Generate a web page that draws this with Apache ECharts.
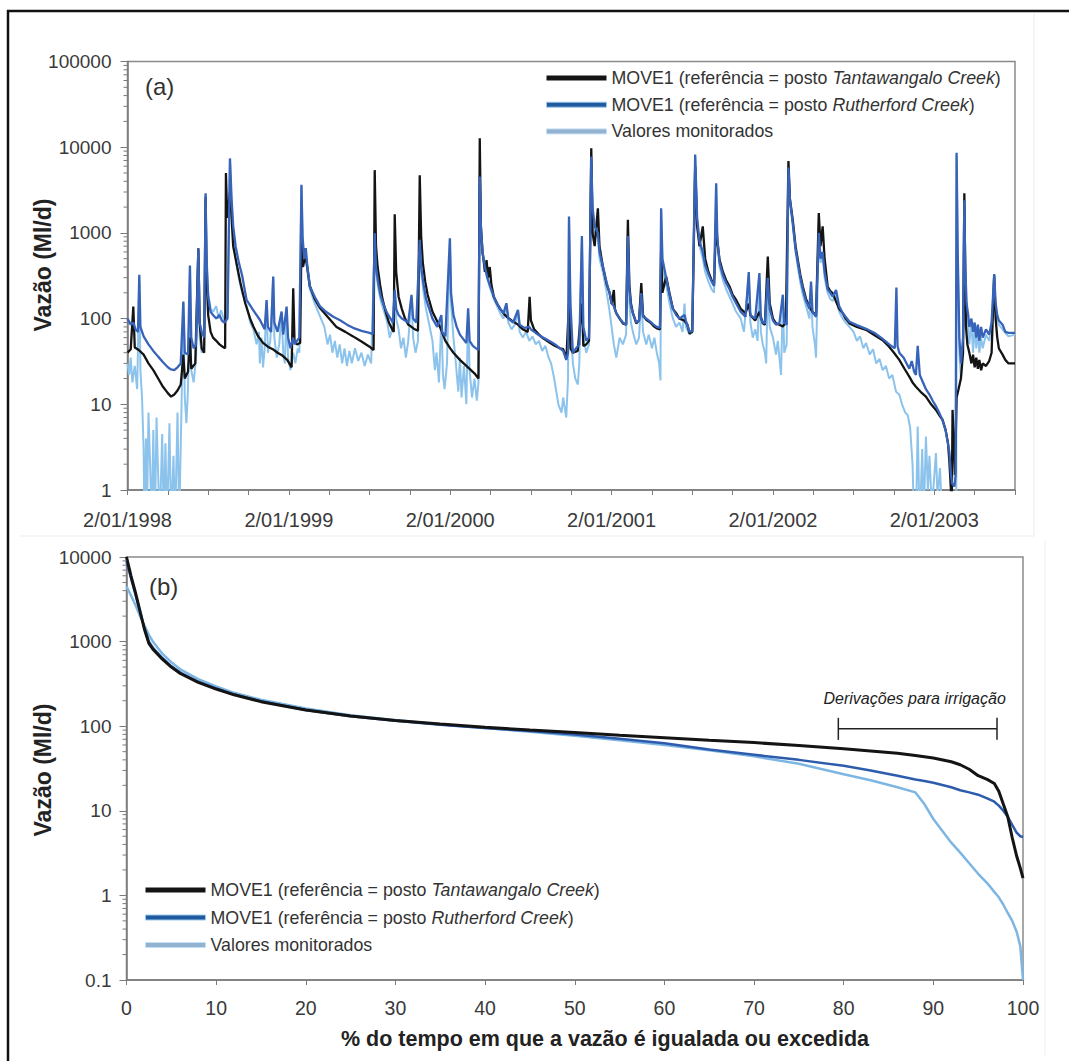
<!DOCTYPE html>
<html>
<head>
<meta charset="utf-8">
<script src="https://cdn.jsdelivr.net/npm/echarts@6/dist/echarts.min.js"></script>
<style>
  html, body { margin: 0; padding: 0; background: #fff; }
  #c { width: 1069px; height: 1061px; }
</style>
</head>
<body>
<div id="c"></div>
<script>
// ---------- series names / labels ----------
const N_TAN = 'MOVE1 (referência = posto Tantawangalo Creek)';
const N_RUT = 'MOVE1 (referência = posto Rutherford Creek)';
const N_MON = 'Valores monitorados';

const labelYears = [1998, 1999, 2000, 2001, 2002, 2003];
const yearLabels = ['2/01/1998', '2/01/1999', '2/01/2000', '2/01/2001', '2/01/2002', '2/01/2003'];

// ---------- (a) daily flow series: [decimal year, Ml/d] ----------
const tantawangaloDaily = [
  [1998.000,40],[1998.020,44],[1998.036,138],[1998.045,46],[1998.070,43],[1998.100,38],[1998.130,30],[1998.160,25],
  [1998.190,20],[1998.220,16],[1998.250,13.5],[1998.270,12.3],[1998.290,13],[1998.310,14.5],[1998.330,17],[1998.346,38],
  [1998.355,20],[1998.375,24],[1998.387,60],[1998.395,26],[1998.420,30],[1998.439,660],[1998.447,90],[1998.460,45],
  [1998.475,40],[1998.484,2600],[1998.490,300],[1998.500,110],[1998.515,70],[1998.530,60],[1998.550,55],[1998.570,50],
  [1998.590,47],[1998.605,45],[1998.610,5000],[1998.618,1500],[1998.635,3000],[1998.645,1500],[1998.655,700],[1998.680,400],
  [1998.700,260],[1998.730,150],[1998.760,100],[1998.780,81],[1998.810,62],[1998.840,52],[1998.870,47],[1998.900,44],
  [1998.930,40],[1998.960,37],[1998.990,33],[1999.017,27],[1999.027,226],[1999.035,55],[1999.050,50],[1999.070,52],
  [1999.078,800],[1999.085,400],[1999.100,500],[1999.110,450],[1999.130,240],[1999.160,170],[1999.190,135],[1999.240,105],
  [1999.295,80],[1999.350,70],[1999.398,62],[1999.450,54],[1999.500,47],[1999.525,43],[1999.532,5400],[1999.540,700],
  [1999.550,400],[1999.565,250],[1999.580,170],[1999.600,120],[1999.620,90],[1999.640,75],[1999.650,70],[1999.656,1650],
  [1999.665,350],[1999.680,180],[1999.700,130],[1999.720,100],[1999.740,85],[1999.760,80],[1999.780,75],[1999.800,72],
  [1999.811,4700],[1999.820,900],[1999.830,450],[1999.845,270],[1999.860,190],[1999.890,120],[1999.935,81],[1999.970,55],
  [2000.000,45],[2000.020,40],[2000.060,33],[2000.110,27],[2000.150,23],[2000.175,20],[2000.183,12700],[2000.190,1200],
  [2000.200,600],[2000.206,500],[2000.215,350],[2000.225,480],[2000.235,300],[2000.245,400],[2000.255,250],[2000.270,180],
  [2000.290,150],[2000.310,130],[2000.330,115],[2000.350,105],[2000.380,95],[2000.420,85],[2000.450,75],[2000.480,70],
  [2000.492,180],[2000.500,95],[2000.520,75],[2000.550,65],[2000.580,58],[2000.620,52],[2000.650,48],[2000.680,45],
  [2000.700,44],[2000.720,34],[2000.736,150],[2000.745,45],[2000.760,40],[2000.790,42],[2000.816,150],[2000.825,48],
  [2000.843,50],[2000.860,55],[2000.874,9700],[2000.882,1000],[2000.895,700],[2000.915,1940],[2000.925,700],[2000.946,405],
  [2000.970,250],[2000.988,198],[2001.000,150],[2001.014,216],[2001.020,130],[2001.029,116],[2001.050,100],[2001.070,88],
  [2001.090,85],[2001.101,1420],[2001.110,250],[2001.120,150],[2001.132,116],[2001.153,88],[2001.170,95],[2001.184,259],
  [2001.195,110],[2001.215,97],[2001.240,90],[2001.260,82],[2001.280,77],[2001.300,75],[2001.307,600],[2001.315,200],
  [2001.338,310],[2001.359,198],[2001.380,130],[2001.400,116],[2001.420,100],[2001.450,95],[2001.470,85],[2001.483,67],
  [2001.500,70],[2001.518,6000],[2001.530,1200],[2001.545,700],[2001.565,1190],[2001.580,500],[2001.600,350],[2001.620,280],
  [2001.635,250],[2001.648,1500],[2001.655,800],[2001.669,484],[2001.690,350],[2001.710,280],[2001.731,237],[2001.750,190],
  [2001.772,165],[2001.800,130],[2001.830,116],[2001.850,150],[2001.860,110],[2001.890,95],[2001.916,120],[2001.937,88],
  [2001.950,85],[2001.968,530],[2001.980,150],[2002.000,100],[2002.019,88],[2002.040,85],[2002.061,81],[2002.080,90],
  [2002.096,6900],[2002.105,2500],[2002.123,1400],[2002.140,700],[2002.154,484],[2002.170,320],[2002.185,237],[2002.205,170],
  [2002.226,138],[2002.245,120],[2002.267,110],[2002.284,1700],[2002.295,700],[2002.308,1190],[2002.320,500],[2002.339,237],
  [2002.355,210],[2002.370,198],[2002.390,160],[2002.410,130],[2002.432,116],[2002.450,100],[2002.474,88],[2002.520,80],
  [2002.577,74],[2002.630,64],[2002.680,56],[2002.720,47],[2002.750,40],[2002.783,33],[2002.815,26],[2002.845,21],
  [2002.865,18],[2002.886,16],[2002.915,14],[2002.948,12.3],[2002.980,10],[2003.010,8.6],[2003.030,7.5],[2003.051,6.6],
  [2003.070,5],[2003.085,3.5],[2003.093,2.2],[2003.103,1.0],[2003.108,0.6],[2003.113,8.6],[2003.120,4],[2003.128,1.5],
  [2003.138,12],[2003.150,15],[2003.165,20],[2003.178,40],[2003.186,2900],[2003.192,300],[2003.196,81],[2003.205,50],
  [2003.217,40],[2003.230,30],[2003.240,38],[2003.250,27],[2003.260,35],[2003.270,26],[2003.279,33],[2003.290,25],
  [2003.300,30],[2003.320,28],[2003.340,32],[2003.355,40],[2003.371,320],[2003.380,100],[2003.390,60],[2003.400,45],
  [2003.423,38],[2003.440,33],[2003.460,30],[2003.500,30]
];

const rutherfordDaily = [
  [1998.000,100],[1998.020,85],[1998.036,90],[1998.050,75],[1998.065,70],[1998.073,324],[1998.080,80],[1998.100,62],
  [1998.130,50],[1998.160,42],[1998.190,36],[1998.220,31],[1998.250,27],[1998.270,25.5],[1998.290,25],[1998.310,27],
  [1998.330,30],[1998.346,158],[1998.355,40],[1998.375,38],[1998.387,415],[1998.395,60],[1998.410,45],[1998.425,50],
  [1998.439,650],[1998.447,90],[1998.460,70],[1998.475,60],[1998.484,2900],[1998.490,500],[1998.500,180],[1998.515,120],
  [1998.530,110],[1998.550,100],[1998.570,110],[1998.585,95],[1998.600,90],[1998.620,100],[1998.635,7400],[1998.645,2500],
  [1998.655,1200],[1998.670,700],[1998.690,450],[1998.710,320],[1998.738,165],[1998.780,125],[1998.820,97],[1998.850,75],
  [1998.862,165],[1998.870,80],[1998.890,70],[1998.903,310],[1998.910,90],[1998.930,70],[1998.955,121],[1998.965,65],
  [1998.986,138],[1998.995,60],[1999.010,45],[1999.027,60],[1999.035,50],[1999.050,55],[1999.065,60],[1999.078,3640],
  [1999.085,900],[1999.095,500],[1999.105,663],[1999.115,400],[1999.130,237],[1999.160,180],[1999.192,140],[1999.230,120],
  [1999.275,105],[1999.320,95],[1999.360,85],[1999.398,78],[1999.450,72],[1999.500,68],[1999.520,66],[1999.532,993],
  [1999.540,400],[1999.555,250],[1999.570,180],[1999.590,140],[1999.610,115],[1999.630,100],[1999.645,90],[1999.656,216],
  [1999.665,130],[1999.680,110],[1999.700,100],[1999.720,95],[1999.740,90],[1999.760,189],[1999.770,100],[1999.790,90],
  [1999.811,830],[1999.820,400],[1999.835,250],[1999.850,170],[1999.870,130],[1999.890,100],[1999.920,80],[1999.945,110],
  [1999.950,70],[1999.970,62],[1999.998,867],[2000.005,200],[2000.020,110],[2000.040,80],[2000.060,65],[2000.080,58],
  [2000.100,52],[2000.111,132],[2000.120,55],[2000.140,48],[2000.160,45],[2000.175,43],[2000.183,4550],[2000.190,1200],
  [2000.200,600],[2000.215,400],[2000.230,300],[2000.250,230],[2000.270,180],[2000.290,150],[2000.310,130],[2000.330,115],
  [2000.348,151],[2000.360,100],[2000.390,90],[2000.420,126],[2000.430,85],[2000.460,78],[2000.490,80],[2000.500,75],
  [2000.530,68],[2000.560,62],[2000.590,58],[2000.620,54],[2000.650,50],[2000.680,45],[2000.700,42],[2000.719,33],
  [2000.730,40],[2000.736,1550],[2000.745,150],[2000.760,40],[2000.780,45],[2000.800,50],[2000.816,920],[2000.825,80],
  [2000.843,55],[2000.860,60],[2000.874,7800],[2000.882,2000],[2000.895,1200],[2000.915,1000],[2000.925,600],[2000.946,405],
  [2000.970,260],[2000.988,200],[2001.000,150],[2001.014,140],[2001.029,116],[2001.050,100],[2001.070,90],[2001.090,85],
  [2001.101,920],[2001.110,220],[2001.120,140],[2001.132,116],[2001.153,90],[2001.170,95],[2001.184,198],[2001.195,105],
  [2001.215,100],[2001.240,92],[2001.260,85],[2001.280,80],[2001.300,78],[2001.307,1940],[2001.315,500],[2001.338,300],
  [2001.359,190],[2001.380,130],[2001.400,110],[2001.420,100],[2001.452,110],[2001.460,95],[2001.483,70],[2001.500,72],
  [2001.518,8200],[2001.530,1500],[2001.545,800],[2001.565,600],[2001.580,420],[2001.600,330],[2001.620,270],[2001.635,240],
  [2001.648,3800],[2001.655,900],[2001.669,450],[2001.690,320],[2001.710,260],[2001.731,220],[2001.750,180],[2001.772,150],
  [2001.800,120],[2001.830,105],[2001.850,350],[2001.860,110],[2001.890,100],[2001.916,340],[2001.925,100],[2001.937,90],
  [2001.950,88],[2001.968,300],[2001.980,130],[2002.000,95],[2002.019,85],[2002.040,88],[2002.061,190],[2002.070,90],
  [2002.085,85],[2002.096,5800],[2002.105,2500],[2002.123,1300],[2002.140,650],[2002.154,450],[2002.170,300],[2002.185,220],
  [2002.205,160],[2002.226,130],[2002.236,270],[2002.245,120],[2002.267,105],[2002.284,1000],[2002.295,500],[2002.308,600],
  [2002.320,350],[2002.339,220],[2002.355,200],[2002.370,180],[2002.391,216],[2002.410,140],[2002.432,116],[2002.450,105],
  [2002.474,92],[2002.520,84],[2002.577,76],[2002.630,68],[2002.680,58],[2002.720,50],[2002.755,45],[2002.765,230],
  [2002.772,48],[2002.783,40],[2002.810,35],[2002.845,26],[2002.860,32],[2002.875,24],[2002.886,22],[2002.897,48],
  [2002.910,22],[2002.930,18],[2002.948,15],[2002.970,13],[2002.990,11],[2003.010,9.5],[2003.030,8],[2003.051,6.5],
  [2003.070,5],[2003.093,2.8],[2003.103,1.5],[2003.110,1.2],[2003.125,1.1],[2003.132,1.5],[2003.138,8600],[2003.145,600],
  [2003.155,60],[2003.165,30],[2003.178,60],[2003.186,2400],[2003.192,400],[2003.200,150],[2003.210,110],[2003.217,80],
  [2003.230,100],[2003.240,70],[2003.250,90],[2003.260,60],[2003.270,85],[2003.279,55],[2003.290,80],[2003.300,60],
  [2003.320,75],[2003.340,65],[2003.355,90],[2003.371,330],[2003.380,150],[2003.390,110],[2003.400,95],[2003.423,85],
  [2003.440,70],[2003.460,68],[2003.500,68]
];

const monitoredDaily = [
  [1998.000,30],[1998.010,22],[1998.020,35],[1998.030,18],[1998.045,28],[1998.060,15],[1998.073,300],[1998.080,25],
  [1998.090,12],[1998.100,3],[1998.105,0.4],[1998.115,4],[1998.120,0.4],[1998.130,8],[1998.140,2],[1998.150,0.4],
  [1998.160,5],[1998.170,0.4],[1998.180,7],[1998.190,1.5],[1998.200,0.4],[1998.215,4.5],[1998.225,0.4],[1998.235,3.5],
  [1998.245,0.4],[1998.260,6],[1998.270,0.4],[1998.285,2.5],[1998.295,0.4],[1998.310,8],[1998.320,0.4],[1998.335,10],
  [1998.346,150],[1998.355,12],[1998.365,6],[1998.375,15],[1998.387,400],[1998.395,25],[1998.410,18],[1998.425,35],
  [1998.439,620],[1998.447,60],[1998.460,40],[1998.475,45],[1998.484,2800],[1998.490,450],[1998.500,200],[1998.515,130],
  [1998.530,120],[1998.550,140],[1998.565,100],[1998.580,125],[1998.600,95],[1998.620,110],[1998.635,7000],[1998.645,2000],
  [1998.655,900],[1998.670,500],[1998.690,300],[1998.710,200],[1998.740,140],[1998.760,90],[1998.780,75],[1998.800,50],
  [1998.815,70],[1998.820,30],[1998.830,60],[1998.840,27],[1998.850,45],[1998.862,160],[1998.870,40],[1998.885,55],
  [1998.903,300],[1998.910,60],[1998.925,35],[1998.940,50],[1998.955,115],[1998.965,40],[1998.975,30],[1998.986,130],
  [1998.995,35],[1999.010,25],[1999.027,40],[1999.040,30],[1999.055,45],[1999.065,40],[1999.078,3500],[1999.085,800],
  [1999.095,400],[1999.105,600],[1999.115,350],[1999.130,220],[1999.160,150],[1999.190,110],[1999.220,80],[1999.240,50],
  [1999.255,65],[1999.270,40],[1999.285,55],[1999.300,35],[1999.315,50],[1999.330,30],[1999.345,45],[1999.360,28],
  [1999.375,42],[1999.390,30],[1999.410,45],[1999.430,32],[1999.450,40],[1999.470,28],[1999.490,38],[1999.510,30],
  [1999.532,900],[1999.540,350],[1999.555,220],[1999.570,160],[1999.590,120],[1999.610,90],[1999.625,60],[1999.640,75],
  [1999.656,200],[1999.665,100],[1999.680,75],[1999.695,45],[1999.710,60],[1999.725,35],[1999.740,55],[1999.760,180],
  [1999.770,60],[1999.785,40],[1999.800,55],[1999.811,800],[1999.820,350],[1999.835,200],[1999.850,130],[1999.870,85],
  [1999.890,55],[1999.905,25],[1999.915,40],[1999.930,18],[1999.945,100],[1999.955,22],[1999.965,15],[1999.980,30],
  [1999.998,850],[2000.005,150],[2000.020,60],[2000.035,30],[2000.050,14],[2000.060,35],[2000.070,12],[2000.085,28],
  [2000.100,10],[2000.111,125],[2000.120,25],[2000.135,12],[2000.150,20],[2000.165,11],[2000.175,18],[2000.183,4000],
  [2000.190,1000],[2000.200,550],[2000.215,380],[2000.230,290],[2000.250,220],[2000.270,170],[2000.290,140],[2000.310,115],
  [2000.330,100],[2000.348,145],[2000.360,90],[2000.380,75],[2000.400,85],[2000.420,120],[2000.430,70],[2000.450,60],
  [2000.470,70],[2000.490,55],[2000.510,62],[2000.530,50],[2000.550,55],[2000.570,42],[2000.590,48],[2000.610,35],
  [2000.625,30],[2000.640,22],[2000.655,15],[2000.670,10],[2000.690,8],[2000.700,12],[2000.719,7],[2000.730,20],
  [2000.736,1500],[2000.745,100],[2000.760,30],[2000.775,20],[2000.791,17],[2000.800,30],[2000.816,850],[2000.825,60],
  [2000.843,40],[2000.860,50],[2000.874,7000],[2000.882,1800],[2000.895,1000],[2000.915,900],[2000.925,500],[2000.946,350],
  [2000.970,200],[2000.988,120],[2001.000,80],[2001.014,50],[2001.029,35],[2001.050,60],[2001.070,50],[2001.090,65],
  [2001.101,900],[2001.110,150],[2001.120,90],[2001.132,70],[2001.153,50],[2001.170,60],[2001.184,180],[2001.195,70],
  [2001.215,50],[2001.230,65],[2001.250,45],[2001.265,60],[2001.280,40],[2001.295,30],[2001.303,19],[2001.307,1800],
  [2001.315,400],[2001.338,250],[2001.359,150],[2001.380,100],[2001.400,80],[2001.420,90],[2001.440,70],[2001.452,150],
  [2001.460,80],[2001.483,65],[2001.500,70],[2001.518,7800],[2001.530,1300],[2001.545,700],[2001.565,500],[2001.580,350],
  [2001.600,270],[2001.620,220],[2001.635,200],[2001.648,3700],[2001.655,800],[2001.669,400],[2001.690,280],[2001.710,220],
  [2001.731,180],[2001.750,150],[2001.772,120],[2001.800,100],[2001.820,70],[2001.850,320],[2001.860,90],[2001.875,60],
  [2001.890,75],[2001.905,55],[2001.916,300],[2001.925,70],[2001.937,50],[2001.950,40],[2001.958,30],[2001.968,250],
  [2001.980,80],[2002.000,60],[2002.019,38],[2002.030,55],[2002.045,28],[2002.050,22],[2002.061,170],[2002.070,40],
  [2002.085,50],[2002.096,5500],[2002.105,2300],[2002.123,1200],[2002.140,600],[2002.154,400],[2002.170,260],[2002.185,190],
  [2002.205,140],[2002.226,100],[2002.236,250],[2002.245,80],[2002.260,50],[2002.267,35],[2002.284,950],[2002.295,450],
  [2002.308,550],[2002.320,300],[2002.339,200],[2002.355,170],[2002.370,160],[2002.391,200],[2002.410,120],[2002.432,100],
  [2002.450,90],[2002.474,80],[2002.500,70],[2002.520,55],[2002.540,62],[2002.560,45],[2002.577,52],[2002.600,38],
  [2002.620,44],[2002.640,30],[2002.660,34],[2002.680,25],[2002.700,28],[2002.720,20],[2002.740,22],[2002.763,14],
  [2002.783,13],[2002.800,10],[2002.820,8],[2002.835,7.5],[2002.850,5.4],[2002.865,2],[2002.875,0.4],[2002.886,0.4],
  [2002.897,5.5],[2002.905,1],[2002.910,0.4],[2002.925,3],[2002.935,0.5],[2002.948,4.2],[2002.960,1],[2002.970,2.5],
  [2002.985,0.6],[2003.010,2.7],[2003.020,0.8],[2003.035,1.8],[2003.051,0.4],[2003.090,0.3],[2003.130,0.3],[2003.136,0.5],
  [2003.138,8000],[2003.145,500],[2003.155,40],[2003.165,20],[2003.178,50],[2003.186,2000],[2003.192,300],[2003.200,120],
  [2003.210,80],[2003.217,50],[2003.230,90],[2003.240,40],[2003.250,80],[2003.260,45],[2003.270,70],[2003.279,40],
  [2003.290,60],[2003.300,45],[2003.320,65],[2003.340,55],[2003.355,85],[2003.371,300],[2003.380,130],[2003.390,100],
  [2003.400,85],[2003.423,75],[2003.440,68],[2003.460,62],[2003.500,65]
];

// ---------- (b) flow duration curves ----------
const exceedancePct = [0, 0.5, 1, 1.5, 2, 2.5, 3, 4, 5, 6, 8, 10, 12, 15, 20, 25, 30, 35, 40, 45, 50, 55, 60, 65, 70, 75,
  80, 83, 86, 88, 89, 90, 92, 93, 94, 95, 96, 96.8, 97.3, 97.8, 98.3, 98.8, 99.3, 99.7, 100];
const tantawangaloCurve = [10000, 6000, 3800, 2300, 1400, 950, 800, 620, 500, 420, 330, 275, 235, 195, 155, 132, 117, 106, 97,
  90, 84, 78, 73, 68, 64, 59, 54, 51, 48, 45, 43.5, 42, 38, 35, 31, 26, 23.5, 21, 17, 12, 8.5, 4.8, 2.9, 2.1, 1.6];
const rutherfordCurve = [9000, 5600, 3600, 2300, 1450, 1000, 830, 640, 510, 430, 335, 280, 238, 197, 155, 131, 116, 104, 95,
  88, 80, 71, 63, 53, 46, 40, 34, 30, 26, 23.5, 22.5, 21.5, 19, 17.5, 16.5, 15.5, 14, 12.8, 11.5, 10, 8.5, 6.8, 5.5, 5, 4.9];
const monitoredCurve = [4500, 3500, 2700, 2000, 1550, 1200, 980, 720, 570, 470, 360, 295, 248, 205, 162, 135, 118, 105, 95,
  86, 77, 68, 60, 52, 44, 36, 27, 23, 19, 16.5, 12, 8, 4.2, 3.2, 2.4, 1.8, 1.4, 1.1, 0.95, 0.78, 0.62, 0.5, 0.37, 0.25, 0.1];

// irrigation diversion span marked on panel (b)
const irrigationSpan = [79.4, 97.1];
const irrigationLevel = 93;
const irrigationLabel = 'Derivações para irrigação';

// ---------- styling ----------
const FONT = '"Liberation Sans", Arial, Helvetica, sans-serif';
const C_TAN = '#141414';
const C_RUT = '#3763b8';
const C_MON = '#8cc3ec';
const AXIS = '#7a7a7a';
const LABEL = '#3a3a3a';

const legendText = {};
legendText[N_TAN] = 'MOVE1 (referência = posto {i|Tantawangalo Creek})';
legendText[N_RUT] = 'MOVE1 (referência = posto {i|Rutherford Creek})';
legendText[N_MON] = 'Valores monitorados';

function logLabel(v) { return String(Number((+v).toPrecision(6))); }

// minor ticks at 2..9 within each decade of a log axis
function logMinorTicks(minExp, maxExp) {
  const out = [];
  for (let e = minExp; e < maxExp; e++) {
    for (let m = 2; m <= 9; m++) out.push(m * Math.pow(10, e));
  }
  return out;
}

function minorTickSeries(xIdx, yIdx, xMin, values) {
  return {
    type: 'custom', xAxisIndex: xIdx, yAxisIndex: yIdx, silent: true, z: 5,
    data: values.map(v => [xMin, v]),
    renderItem: (params, api) => {
      const p = api.coord([api.value(0), api.value(1)]);
      return { type: 'line', shape: { x1: p[0] - 4, y1: p[1], x2: p[0], y2: p[1] },
        style: { stroke: AXIS, lineWidth: 1 } };
    }
  };
}

function legendCfg(top, left, gap) {
  return {
    top: top, left: left, orient: 'vertical', icon: 'rect', itemWidth: 60, itemHeight: 5, itemGap: gap,
    selectedMode: false,
    data: [
      { name: N_TAN, itemStyle: { color: C_TAN } },
      { name: N_RUT, itemStyle: { color: '#1f5a9e', borderColor: '#9cc8ee', borderWidth: 1 } },
      { name: N_MON, itemStyle: { color: '#93b2d0', borderColor: '#c4e0f6', borderWidth: 1 } }
    ],
    formatter: name => legendText[name],
    textStyle: {
      fontFamily: FONT, fontSize: 17.8, color: '#333', lineHeight: 18,
      rich: { i: { fontFamily: FONT, fontSize: 17.8, color: '#333', fontStyle: 'italic', lineHeight: 18 } }
    }
  };
}

const lineBase = { type: 'line', symbol: 'none', showSymbol: false, animation: false, clip: true };

const chart = echarts.init(document.getElementById('c'), null, { renderer: 'svg', width: 1069, height: 1061 });

chart.setOption({
  animation: false,
  backgroundColor: '#fff',
  grid: [
    { left: 127.5, top: 61.5, width: 887.5, height: 428.5, show: true, borderColor: '#8a8a8a', borderWidth: 1.5 },
    { left: 126.5, top: 557, width: 896.5, height: 423, show: true, borderColor: '#8a8a8a', borderWidth: 1.5 }
  ],
  xAxis: [
    {
      gridIndex: 0, type: 'value', min: 1998, max: 2003.5, interval: 0.25,
      axisLine: { lineStyle: { color: AXIS, width: 1.5 } },
      axisTick: { length: 5, lineStyle: { color: AXIS } },
      splitLine: { show: false },
      axisLabel: {
        fontFamily: FONT, fontSize: 20, color: LABEL, margin: 20,
        formatter: v => {
          const r = Math.round(v);
          const i = labelYears.indexOf(r);
          return (Math.abs(v - r) < 1e-6 && i >= 0) ? yearLabels[i] : '';
        }
      }
    },
    {
      gridIndex: 1, type: 'value', min: 0, max: 100, interval: 10,
      axisLine: { lineStyle: { color: AXIS, width: 1.5 } },
      axisTick: { length: 5, lineStyle: { color: AXIS } },
      splitLine: { show: false },
      axisLabel: { fontFamily: FONT, fontSize: 19.5, color: LABEL, margin: 18 }
    }
  ],
  yAxis: [
    {
      gridIndex: 0, type: 'log', logBase: 10, min: 1, max: 100000,
      axisLine: { show: true, lineStyle: { color: AXIS, width: 1.5 } },
      axisTick: { show: true, length: 7, lineStyle: { color: AXIS } },
      splitLine: { show: false },
      axisLabel: { fontFamily: FONT, fontSize: 19, color: LABEL, margin: 16, formatter: logLabel }
    },
    {
      gridIndex: 1, type: 'log', logBase: 10, min: 0.1, max: 10000,
      axisLine: { show: true, lineStyle: { color: AXIS, width: 1.5 } },
      axisTick: { show: true, length: 7, lineStyle: { color: AXIS } },
      splitLine: { show: false },
      axisLabel: { fontFamily: FONT, fontSize: 19, color: LABEL, margin: 15, formatter: logLabel }
    }
  ],
  legend: [legendCfg(64, 541, 8.7), legendCfg(876, 140, 9.5)],
  series: [
    // panel (a)
    Object.assign({}, lineBase, { name: N_MON, xAxisIndex: 0, yAxisIndex: 0, data: monitoredDaily,
      lineStyle: { color: C_MON, width: 2 }, itemStyle: { color: C_MON }, z: 2 }),
    Object.assign({}, lineBase, { name: N_TAN, xAxisIndex: 0, yAxisIndex: 0, data: tantawangaloDaily,
      lineStyle: { color: C_TAN, width: 2.3 }, itemStyle: { color: C_TAN }, z: 3 }),
    Object.assign({}, lineBase, { name: N_RUT, xAxisIndex: 0, yAxisIndex: 0, data: rutherfordDaily,
      lineStyle: { color: C_RUT, width: 2.3 }, itemStyle: { color: C_RUT }, z: 4 }),
    // panel (b)
    Object.assign({}, lineBase, { name: N_MON, xAxisIndex: 1, yAxisIndex: 1,
      data: exceedancePct.map((p, i) => [p, monitoredCurve[i]]),
      lineStyle: { color: '#7db6e3', width: 2.5 }, itemStyle: { color: C_MON }, z: 2 }),
    Object.assign({}, lineBase, { name: N_RUT, xAxisIndex: 1, yAxisIndex: 1,
      data: exceedancePct.map((p, i) => [p, rutherfordCurve[i]]),
      lineStyle: { color: '#2d5cad', width: 2.5 }, itemStyle: { color: C_RUT }, z: 3 }),
    Object.assign({}, lineBase, { name: N_TAN, xAxisIndex: 1, yAxisIndex: 1,
      data: exceedancePct.map((p, i) => [p, tantawangaloCurve[i]]),
      lineStyle: { color: C_TAN, width: 3 }, itemStyle: { color: C_TAN }, z: 4 }),
    // log minor ticks
    minorTickSeries(0, 0, 1998, logMinorTicks(0, 5)),
    minorTickSeries(1, 1, 0, logMinorTicks(-1, 4)),
    // irrigation bracket
    {
      type: 'custom', xAxisIndex: 1, yAxisIndex: 1, silent: true, z: 6,
      data: [[irrigationSpan[0], irrigationSpan[1], irrigationLevel]],
      renderItem: (params, api) => {
        const a = api.coord([api.value(0), api.value(2)]);
        const b = api.coord([api.value(1), api.value(2)]);
        const st = { stroke: '#222', lineWidth: 1.5 };
        return {
          type: 'group',
          children: [
            { type: 'line', shape: { x1: a[0], y1: a[1], x2: b[0], y2: b[1] }, style: st },
            { type: 'line', shape: { x1: a[0], y1: a[1] - 11, x2: a[0], y2: a[1] + 11 }, style: st },
            { type: 'line', shape: { x1: b[0], y1: b[1] - 11, x2: b[0], y2: b[1] + 11 }, style: st },
            { type: 'text', style: { text: irrigationLabel, x: (a[0] + b[0]) / 2 - 3, y: a[1] - 30,
              fontFamily: FONT, fontSize: 16, fontStyle: 'italic', fill: '#222',
              align: 'center', verticalAlign: 'middle' } }
          ]
        };
      }
    }
  ],
  graphic: [
    // outer frame
    { type: 'line', shape: { x1: 7, y1: 11, x2: 1069, y2: 11 }, style: { stroke: '#111', lineWidth: 2.5 }, z: 0 },
    { type: 'line', shape: { x1: 8, y1: 10, x2: 8, y2: 1061 }, style: { stroke: '#111', lineWidth: 2.5 }, z: 0 },
    // faint panel separators
    { type: 'line', shape: { x1: 20, y1: 536, x2: 1034, y2: 536 }, style: { stroke: '#ececec', lineWidth: 1 }, z: 0 },
    { type: 'line', shape: { x1: 1034, y1: 13, x2: 1034, y2: 536 }, style: { stroke: '#ececec', lineWidth: 1 }, z: 0 },
    { type: 'line', shape: { x1: 1045, y1: 540, x2: 1045, y2: 1055 }, style: { stroke: '#efefef', lineWidth: 1 }, z: 0 },
    // panel tags
    { type: 'text', x: 145, y: 86, style: { text: '(a)', fontFamily: FONT, fontSize: 24, fill: '#333', align: 'left', verticalAlign: 'middle' }, z: 10 },
    { type: 'text', x: 149, y: 586, style: { text: '(b)', fontFamily: FONT, fontSize: 24, fill: '#333', align: 'left', verticalAlign: 'middle' }, z: 10 },
    // axis titles
    { type: 'text', x: 43, y: 265, rotation: Math.PI / 2,
      style: { text: 'Vazão (Ml/d)', fontFamily: FONT, fontSize: 23, fontWeight: 'bold', fill: '#222', align: 'center', verticalAlign: 'middle' }, z: 10 },
    { type: 'text', x: 43, y: 770, rotation: Math.PI / 2,
      style: { text: 'Vazão (Ml/d)', fontFamily: FONT, fontSize: 23, fontWeight: 'bold', fill: '#222', align: 'center', verticalAlign: 'middle' }, z: 10 },
    { type: 'text', x: 605, y: 1039,
      style: { text: '% do tempo em que a vazão é igualada ou excedida', fontFamily: FONT, fontSize: 21.5, fontWeight: 'bold', fill: '#222', align: 'center', verticalAlign: 'middle' }, z: 10 }
  ]
});
</script>
</body>
</html>
